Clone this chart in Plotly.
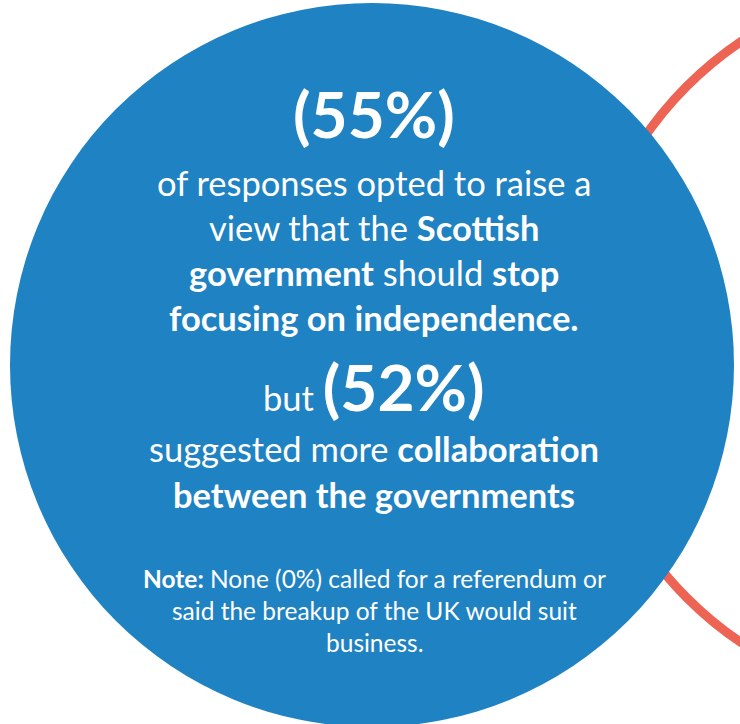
import plotly.graph_objects as go

W, H = 740, 724

# ---- data (read from the infographic) ----
share_stop_focus = 55      # % raising "stop focusing on independence"
share_collab = 52          # % suggesting more collaboration
share_referendum = 0       # % calling for a referendum

headline_lines = [
    "of responses opted to raise a",
    "view that the <b>Scottish</b>",
    "<b>government</b> should <b>stop</b>",
    "<b>focusing on independence.</b>",
]
collab_lines = [
    "suggested more <b>collaboration</b>",
    "<b>between the governments</b>",
]
note_lines = [
    f"<b>Note:</b> None ({share_referendum}%) called for a referendum or",
    "said the breakup of the UK would suit",
    "business.",
]

# ---- style ----
BLUE = "#1F82C2"
RED = "#EE6454"
FONT = "Lato"
BIG = 64
BODY = 34.5
NOTE = 24.5
CX = 374

fig = go.Figure()

shapes = [
    dict(type="circle", xref="x", yref="y", x0=581, x1=1305, y0=-20, y1=704,
         line=dict(color=RED, width=9), fillcolor="rgba(0,0,0,0)", layer="above"),
    dict(type="circle", xref="x", yref="y", x0=10, x1=734, y0=3, y1=727,
         line=dict(color=BLUE, width=0), fillcolor=BLUE, layer="above"),
]

ann = []

def add(text, y, size):
    ann.append(dict(text=text, x=CX, y=y, xref="x", yref="y", showarrow=False,
                    xanchor="center", yanchor="middle",
                    font=dict(family=FONT, size=size, color="white")))

add(f"<b>({share_stop_focus}%)</b>", 138 - 0.387 * BIG, BIG)
for i, t in enumerate(headline_lines):
    base = [196, 241, 286, 331][i]
    add(t, base - 0.387 * BODY, BODY)
add(f"but <span style='font-size:{BIG}px'><b>({share_collab}%)</b></span>", 411 - 0.387 * BIG, BODY)
for i, t in enumerate(collab_lines):
    base = [462, 508][i]
    add(t, base - 0.387 * BODY, BODY)
for i, t in enumerate(note_lines):
    base = [588, 620, 652][i]
    add(t, base - 0.387 * NOTE, NOTE)

fig.update_layout(
    width=W, height=H,
    margin=dict(l=0, r=0, t=0, b=0, pad=0),
    paper_bgcolor="white", plot_bgcolor="white",
    xaxis=dict(range=[0, W], visible=False, fixedrange=True),
    yaxis=dict(range=[H, 0], visible=False, fixedrange=True),
    shapes=shapes, annotations=ann, showlegend=False,
)

fig.write_html(
    "out.html",
    config={"displayModeBar": False},
    post_script="document.body.style.margin='0';document.body.style.overflow='hidden';",
)
